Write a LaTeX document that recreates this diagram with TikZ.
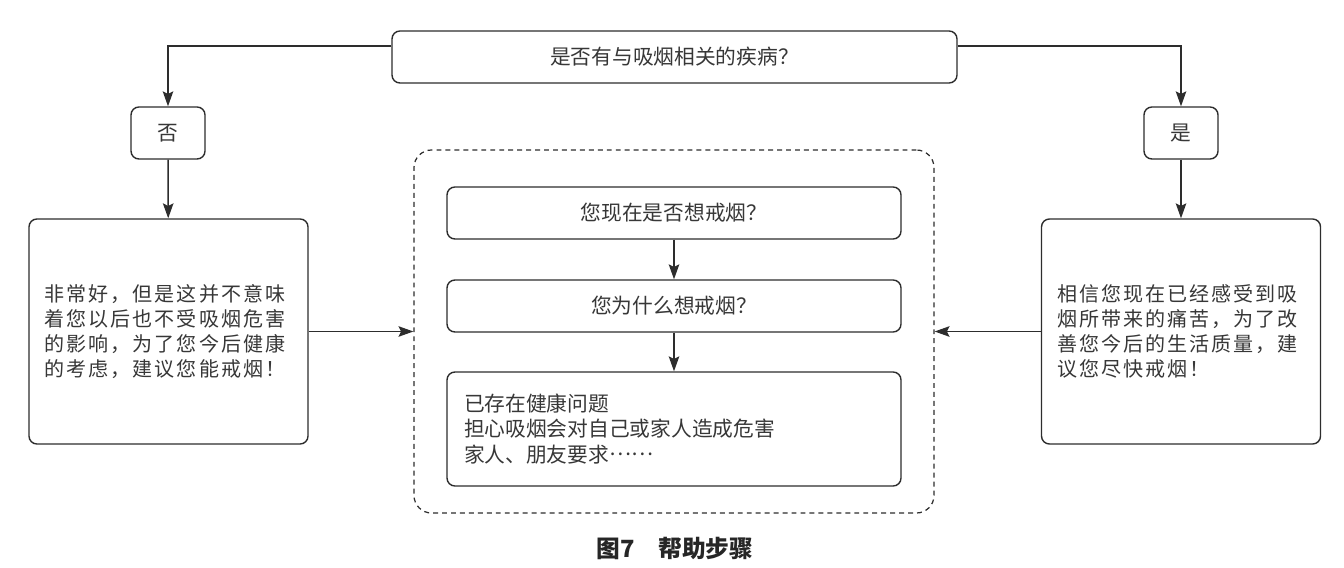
\documentclass[tikz,border=0pt]{standalone}
\usepackage{fontspec}
\setmainfont{Noto Sans CJK SC}
\newfontfamily\cjkwide{Noto Sans CJK SC}[LetterSpace=10]
\usepackage{tikz}
\usetikzlibrary{arrows.meta}
\definecolor{lineg}{RGB}{45, 45, 45}
\definecolor{textg}{RGB}{55, 55, 55}

\begin{document}
\begin{tikzpicture}[
        box/.style={rectangle, rounded corners=4.5pt, draw=lineg, line width=0.8pt,
                    minimum height=1.04cm, align=center, text=textg,
                    font=\fontsize{11.8}{14.2}\selectfont},
        bigbox/.style={box, minimum width=5.58cm, minimum height=4.5cm,
                       text width=4.95cm, align=left,
                       font=\cjkwide\fontsize{11.4}{14.3}\selectfont},
        grpbox/.style={rectangle, rounded corners=10pt, draw=lineg, line width=0.7pt,
                       dash pattern=on 2.8pt off 2.3pt,
                       minimum width=10.4cm, minimum height=7.26cm},
        arr/.style={-{Stealth[length=8.5pt, width=6pt, inset=1.5pt]},
                    draw=lineg, line width=0.8pt},
        capt/.style={font=\bfseries\fontsize{13.5}{16}\selectfont, text=black!85},
      ]
        \useasboundingbox (0,0) rectangle (26.88,11.34);

        \node[box, minimum width=11.3cm] (ill) at (13.49,10.2)
              {是否有与吸烟相关的疾病？};
        \node[box, minimum width=1.48cm] (no)  at (3.36,8.68) {否};
        \node[box, minimum width=1.48cm] (yes) at (23.62,8.68) {是};

        \node[bigbox] (good) at (3.37,4.71)
              {非常好，但是这并不意味\\着您以后也不受吸烟危害\\的影响，为了您今后健康\\的考虑，建议您能戒烟！};
        \node[bigbox] (hurt) at (23.62,4.71)
              {相信您现在已经感受到吸\\烟所带来的痛苦，为了改\\善您今后的生活质量，建\\议您尽快戒烟！};

        \node[grpbox] (grp) at (13.48,4.71) {};
        \node[box, minimum width=9.08cm] (want) at (13.48,7.08) {您现在是否想戒烟？};
        \node[box, minimum width=9.08cm] (why)  at (13.48,5.22) {您为什么想戒烟？};
        \node[box, minimum width=9.08cm, minimum height=2.28cm,
              text width=8.4cm, align=left,
              font=\fontsize{11.8}{14.6}\selectfont] (reason) at (13.48,2.76)
              {已存在健康问题\\担心吸烟会对自己或家人造成危害\\家人、朋友要求\raisebox{0.33em}{……}};

        \draw[arr] ([yshift=0.22cm]ill.west) -| (no.north);
        \draw[arr] ([yshift=0.22cm]ill.east) -| (yes.north);
        \draw[arr] (no)--(good);
        \draw[arr] (yes)--(hurt);
        \draw[arr] (good.east)--(grp.west);
        \draw[arr] (hurt.west)--(grp.east);
        \draw[arr] (want)--(why);
        \draw[arr] (why)--(reason);

        \node[capt] (title) at (13.5,0.38) {图7\quad 帮助步骤};
      \end{tikzpicture}
\end{document}
